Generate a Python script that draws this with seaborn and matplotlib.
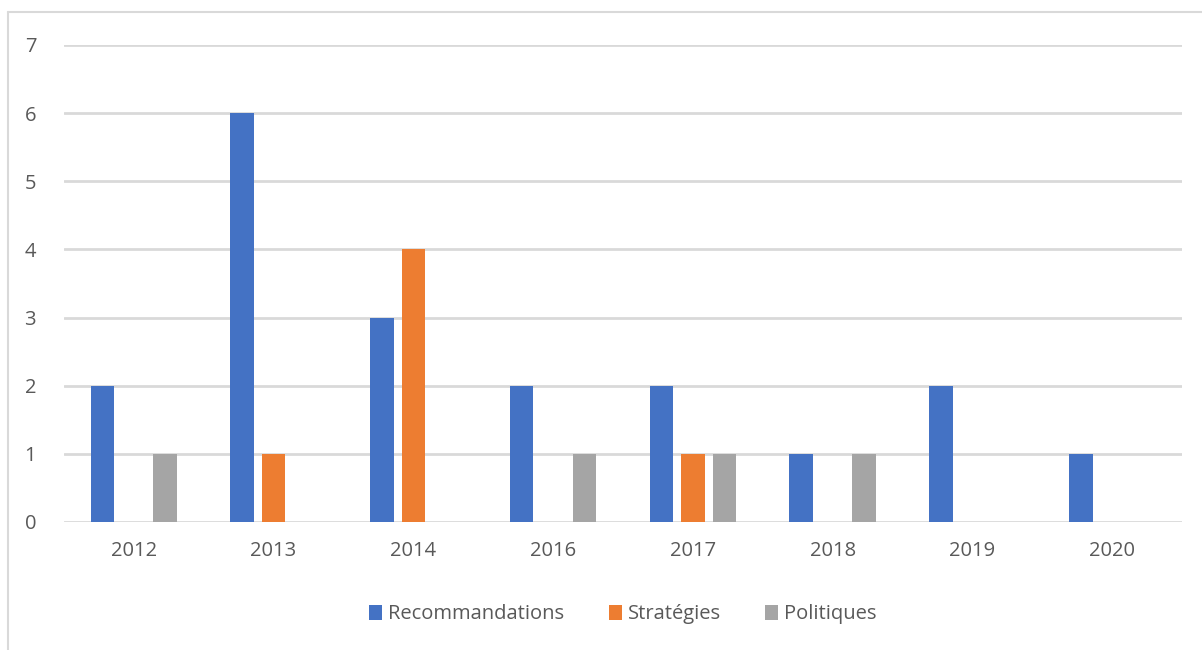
import pandas as pd
import seaborn as sns
import matplotlib.pyplot as plt

# Chart values
years = ['2012', '2013', '2014', '2016', '2017', '2018', '2019', '2020']
recommandations = [2, 6, 3, 2, 2, 1, 2, 1]
strategies = [0, 1, 4, 0, 1, 0, 0, 0]
politiques = [1, 0, 0, 1, 1, 1, 0, 0]
series_names = ['Recommandations', 'Stratégies', 'Politiques']
colors = ['#4472C4', '#ED7D31', '#A5A5A5']

df = pd.DataFrame({'Année': years,
                   'Recommandations': recommandations,
                   'Stratégies': strategies,
                   'Politiques': politiques})
long_df = df.melt(id_vars='Année', var_name='Type', value_name='Nombre')

sns.set_theme(style="white")
plt.rcParams['font.family'] = ['Open Sans', 'DejaVu Sans']
text_color = '#595959'

fig = plt.figure(figsize=(12.02, 6.5), dpi=100)
ax = fig.add_axes([0.0532, 0.197, 0.9302, 0.7338])

sns.barplot(data=long_df, x='Année', y='Nombre', hue='Type',
            hue_order=series_names, palette=colors, order=years,
            width=0.675, gap=0.25, saturation=1, edgecolor='none',
            errorbar=None, ax=ax)

ax.set_ylim(0, 7)
ax.set_yticks(range(0, 8))
ax.set_xlim(-0.5, len(years) - 0.5)
ax.yaxis.grid(True, color='#D9D9D9', linewidth=2)
ax.set_axisbelow(True)
for s in ax.spines.values():
    s.set_visible(False)
ax.set_xlabel('')
ax.set_ylabel('')
ax.tick_params(axis='both', length=0, labelsize=14.5, colors=text_color)
ax.tick_params(axis='y', pad=20)
ax.tick_params(axis='x', pad=14)

leg = ax.legend(loc='upper center', bbox_to_anchor=(0.5, -0.135), ncol=3,
                frameon=False, fontsize=14.5, handlelength=0.65, handleheight=0.75,
                handletextpad=0.3, columnspacing=2.2)
for t in leg.get_texts():
    t.set_color(text_color)

# outer chart frame (partially visible, as in the reference)
fig.add_artist(plt.Line2D([8 / 1202, 8 / 1202], [0, 1 - 12 / 650],
                          transform=fig.transFigure, color='#D9D9D9', linewidth=1.5))
fig.add_artist(plt.Line2D([8 / 1202, 1], [1 - 12 / 650, 1 - 12 / 650],
                          transform=fig.transFigure, color='#D9D9D9', linewidth=1.5))

fig.savefig('out.png', dpi=100)
